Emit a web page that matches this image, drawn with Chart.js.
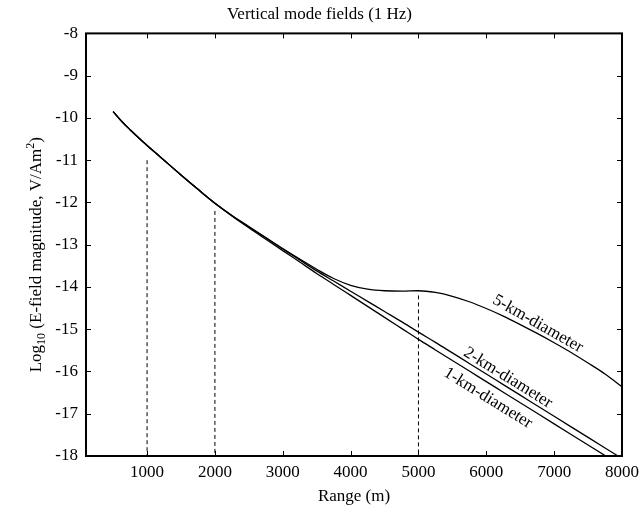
<!DOCTYPE html>
<html>
<head>
<meta charset="utf-8">
<script src="https://cdn.jsdelivr.net/npm/chart.js@4.4.0/dist/chart.umd.min.js"></script>
<style>
  html, body { margin: 0; padding: 0; background: #fff; }
</style>
</head>
<body>
<canvas id="chart" width="639" height="508"></canvas>
<script>
// range (m) shared by all three curves
const ranges = [500, 625, 750, 875, 1000, 1250, 1500, 1750,
  2000, 2250, 2500, 2750, 3000, 3250, 3500, 3750, 4000, 4250, 4500, 4750,
  5000, 5250, 5500, 5750, 6000, 6250, 6500, 6750, 7000, 7250, 7500, 7750, 8000];

// log10 of E-field magnitude
const field1km = [-9.85, -10.08, -10.28, -10.47, -10.65, -11.0, -11.35, -11.69,
  -12.02, -12.32, -12.60, -12.87, -13.14, -13.41, -13.68, -13.94, -14.20, -14.46, -14.72, -14.98,
  -15.24, -15.49, -15.74, -15.99, -16.24, -16.49, -16.74, -16.99, -17.24, -17.49, -17.74, -17.99, -18.24];
const field2km = [-9.85, -10.08, -10.28, -10.47, -10.65, -11.0, -11.35, -11.69,
  -12.02, -12.31, -12.58, -12.84, -13.10, -13.36, -13.62, -13.86, -14.10, -14.34, -14.58, -14.82,
  -15.07, -15.31, -15.56, -15.81, -16.06, -16.31, -16.56, -16.81, -17.06, -17.31, -17.56, -17.81, -18.06];
const field5km = [-9.85, -10.08, -10.28, -10.47, -10.65, -11.0, -11.35, -11.69,
  -12.02, -12.31, -12.57, -12.83, -13.09, -13.34, -13.58, -13.80, -13.96, -14.05, -14.09, -14.10,
  -14.09, -14.13, -14.22, -14.35, -14.51, -14.69, -14.89, -15.10, -15.32, -15.55, -15.80, -16.06, -16.36];

// dashed markers
const markerRanges = [1000, 2000, 5000];
const markerTops = [-11, -12.2, -14.2];

const xTickValues = [1000, 2000, 3000, 4000, 5000, 6000, 7000, 8000];
const yTickValues = [-18, -17, -16, -15, -14, -13, -12, -11, -10, -9, -8];

const curveNames = ['1-km-diameter', '2-km-diameter', '5-km-diameter'];
const labelRanges = [6025, 6320, 6760];
const labelValues = [-16.63, -16.15, -14.87];
const labelAngles = [31.9, 31.9, 29.6];

const serif = '"Liberation Serif", "DejaVu Serif", serif';
const toPoints = (xs, ys) => xs.map((x, i) => ({ x: x, y: ys[i] }));

const curveStyle = {
  borderColor: '#000',
  borderWidth: 1.3,
  pointRadius: 0,
  cubicInterpolationMode: 'monotone',
  fill: false
};

const datasets = [
  Object.assign({ label: curveNames[0], data: toPoints(ranges, field1km) }, curveStyle),
  Object.assign({ label: curveNames[1], data: toPoints(ranges, field2km) }, curveStyle),
  Object.assign({ label: curveNames[2], data: toPoints(ranges, field5km) }, curveStyle)
];
markerRanges.forEach((r, i) => {
  datasets.push({
    label: 'marker' + r,
    data: [{ x: r, y: markerTops[i] }, { x: r, y: -18 }],
    borderColor: '#000',
    borderWidth: 1,
    borderDash: [4, 3],
    pointRadius: 0
  });
});

// box and inward ticks, matlab style
const boxTicks = {
  id: 'boxTicks',
  afterDatasetsDraw(chart) {
    const { ctx, chartArea: a, scales: { x, y } } = chart;
    ctx.save();
    ctx.strokeStyle = '#000';
    ctx.lineWidth = 1;
    ctx.beginPath();
    xTickValues.forEach(v => {
      const px = Math.round(x.getPixelForValue(v)) + 0.5;
      ctx.moveTo(px, a.bottom); ctx.lineTo(px, a.bottom - 5);
      ctx.moveTo(px, a.top); ctx.lineTo(px, a.top + 5);
    });
    yTickValues.forEach(v => {
      const py = Math.round(y.getPixelForValue(v)) + 0.5;
      ctx.moveTo(a.left, py); ctx.lineTo(a.left + 5, py);
      ctx.moveTo(a.right, py); ctx.lineTo(a.right - 5, py);
    });
    ctx.stroke();
    ctx.lineWidth = 2;
    ctx.strokeRect(a.left, a.top, a.right - a.left, a.bottom - a.top);

    // curve names along the lines
    ctx.fillStyle = '#000';
    ctx.font = '17px ' + serif;
    ctx.textAlign = 'center';
    ctx.textBaseline = 'middle';
    curveNames.forEach((name, i) => {
      ctx.save();
      ctx.translate(x.getPixelForValue(labelRanges[i]), y.getPixelForValue(labelValues[i]));
      ctx.rotate(labelAngles[i] * Math.PI / 180);
      ctx.fillText(name, 0, 0);
      ctx.restore();
    });

    // y axis title with sub and superscript
    const parts = [
      { t: 'Log', size: 17, dy: 0 },
      { t: '10', size: 12, dy: 4 },
      { t: ' (E-field magnitude, V/Am', size: 17, dy: 0 },
      { t: '2', size: 12, dy: -7 },
      { t: ')', size: 17, dy: 0 }
    ];
    let total = 0;
    parts.forEach(p => { ctx.font = p.size + 'px ' + serif; p.w = ctx.measureText(p.t).width; total += p.w; });
    ctx.save();
    ctx.translate(41, (a.top + a.bottom) / 2 + 10);
    ctx.rotate(-Math.PI / 2);
    ctx.textAlign = 'left';
    ctx.textBaseline = 'alphabetic';
    let cx = -total / 2;
    parts.forEach(p => {
      ctx.font = p.size + 'px ' + serif;
      ctx.fillText(p.t, cx, p.dy);
      cx += p.w;
    });
    ctx.restore();
    ctx.restore();
  }
};

new Chart(document.getElementById('chart').getContext('2d'), {
  type: 'line',
  data: { datasets: datasets },
  options: {
    responsive: false,
    animation: false,
    devicePixelRatio: 1,
    layout: { padding: { left: 0, right: 0, top: 0, bottom: 0 } },
    plugins: {
      legend: { display: false },
      tooltip: { enabled: false },
      title: {
        display: true,
        text: 'Vertical mode fields (1 Hz)',
        color: '#000',
        font: { family: serif, size: 17, weight: 'normal' },
        padding: { top: 4, bottom: 9 }
      }
    },
    scales: {
      x: {
        type: 'linear',
        min: 100,
        max: 8000,
        afterBuildTicks: s => { s.ticks = xTickValues.map(v => ({ value: v })); },
        afterFit: s => { s.height = 52; s.paddingLeft = 0; s.paddingRight = 17; },
        grid: { display: false, drawTicks: false },
        border: { display: false },
        ticks: { color: '#000', padding: 6, maxRotation: 0, font: { family: serif, size: 17 },
          callback: v => String(v) },
        title: {
          display: true,
          text: 'Range (m)',
          color: '#000',
          font: { family: serif, size: 17 },
          padding: { top: 0, bottom: 1 }
        }
      },
      y: {
        min: -18,
        max: -8,
        afterBuildTicks: s => { s.ticks = yTickValues.map(v => ({ value: v })); },
        afterFit: s => { s.width = 86; },
        grid: { display: false, drawTicks: false },
        border: { display: false },
        ticks: { color: '#000', padding: 8, font: { family: serif, size: 17 },
          callback: v => String(v) }
      }
    }
  },
  plugins: [boxTicks]
});
</script>
</body>
</html>
